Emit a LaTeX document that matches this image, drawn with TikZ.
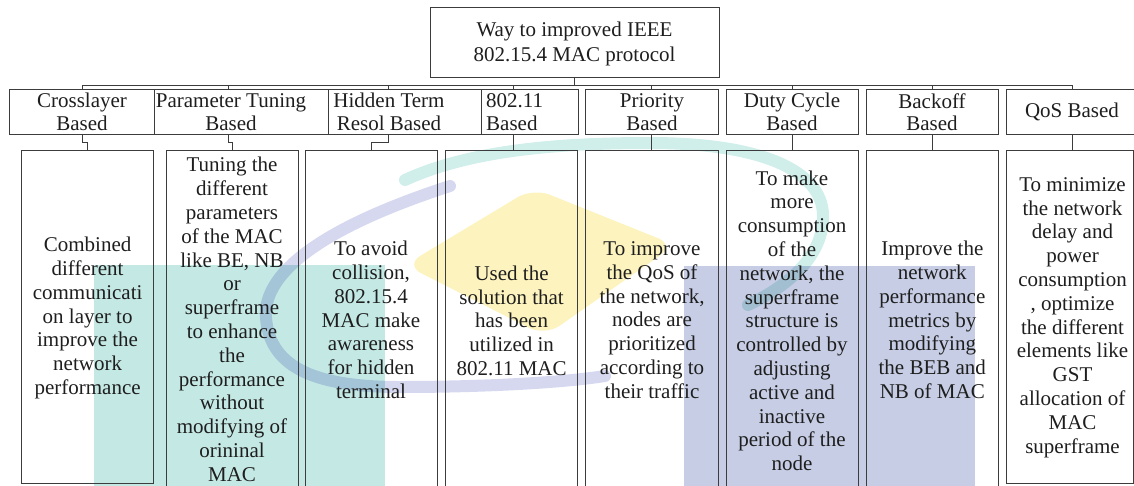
\documentclass[tikz,border=0pt]{standalone}
\usepackage{fontspec}
\setmainfont{Liberation Serif}
\usetikzlibrary{calc}
\definecolor{frame}{RGB}{60,60,60}
\definecolor{ink}{RGB}{30,30,30}
\definecolor{wmteal}{RGB}{196,233,229}
\definecolor{wmblue}{RGB}{198,205,228}
\definecolor{wmyellow}{RGB}{252,243,190}
\definecolor{wmring}{RGB}{214,216,240}
\definecolor{wmarc}{RGB}{208,238,234}
\newcommand\headfont{\fontsize{21}{22.5}\selectfont}
\newcommand\descfont{\fontsize{21}{23.8}\selectfont}
\newcommand\titlefont{\fontsize{21}{25}\selectfont}
\begin{document}
\begin{tikzpicture}[x=1pt,y=-1pt,
  boxshape/.style={draw=frame, line width=0.9pt, inner sep=0pt, outer sep=0pt, anchor=north west},
  wire/.style={draw=frame, line width=0.9pt},
  headtext/.style={align=center, font=\headfont, text=ink, inner sep=0pt},
  desctext/.style={align=center, font=\descfont, text=ink, inner sep=0pt},
  titletext/.style={align=center, font=\titlefont, text=ink, inner sep=0pt},
]
\useasboundingbox (0,0) rectangle (1134,485);
\begin{scope}
\clip (0,0) rectangle (1134,485);

% faint logo behind the chart
\fill[wmteal] (94,265) rectangle (385,490);
\fill[wmblue] (684,266) rectangle (975,490);
\fill[wmyellow, rounded corners=18pt] (405,265) -- (533,188) -- (675,245) -- (545,336) -- cycle;
\draw[wmring, line width=12pt, line cap=round, blend mode=multiply]
  (450,186) .. controls (330,225) and (262,270) .. (266,318)
  .. controls (270,370) and (320,387) .. (400,387)
  .. controls (480,387) and (560,383) .. (605,376);
\draw[wmarc, line width=12pt, line cap=round, blend mode=multiply]
  (405,180) .. controls (470,150) and (560,143) .. (650,143)
  .. controls (760,143) and (822,170) .. (823,215)
  .. controls (824,255) and (790,285) .. (748,305);

% root
\node[boxshape, minimum width=289pt, minimum height=70pt] (top) at (430,7.3) {};
\node[titletext] (title) at (574.5,44) {Way to improved IEEE\\802.15.4 MAC protocol};

% categories
\node[boxshape, minimum width=144.7pt, minimum height=45pt] (r1) at (9.6,89) {};
\node[boxshape, minimum width=173.7pt, minimum height=45pt] (r2) at (154.3,89) {};
\node[boxshape, minimum width=153.8pt, minimum height=45pt] (r3) at (328,89) {};
\node[boxshape, minimum width=96.2pt, minimum height=45pt] (r4) at (481.8,89) {};
\node[boxshape, minimum width=132.9pt, minimum height=45pt] (r5) at (585.6,89) {};
\node[boxshape, minimum width=131.8pt, minimum height=45pt] (r6) at (726.5,89) {};
\node[boxshape, minimum width=131.3pt, minimum height=45pt] (r7) at (866.7,89) {};
\node[boxshape, minimum width=133.4pt, minimum height=45pt] (r8) at (1006.6,89) {};

\node[headtext] (h1) at (82,112) {Crosslayer\\Based};
\node[headtext] (h2) at (231,112) {Parameter Tuning\\Based};
\node[headtext] (h3) at (389,112) {Hidden Term\\Resol Based};
\node[headtext, align=left, anchor=west] (h4) at (486,112) {802.11\\Based};
\node[headtext] (h5) at (652,112) {Priority\\Based};
\node[headtext] (h6) at (792,112) {Duty Cycle\\Based};
\node[headtext] (h7) at (932,112) {Backoff\\Based};
\node[headtext] (h8) at (1072,112) {QoS Based};

% descriptions
\node[boxshape, minimum width=132.2pt, minimum height=333pt] (e1) at (21.5,150) {};
\node[boxshape, minimum width=132pt, minimum height=345pt] (e2) at (166,150) {};
\node[boxshape, minimum width=132pt, minimum height=345pt] (e3) at (305,150) {};
\node[boxshape, minimum width=132.2pt, minimum height=345pt] (e4) at (445.5,150) {};
\node[boxshape, minimum width=132.6pt, minimum height=345pt] (e5) at (585.7,150) {};
\node[boxshape, minimum width=132.3pt, minimum height=345pt] (e6) at (726,150) {};
\node[boxshape, minimum width=131.3pt, minimum height=345pt] (e7) at (866.7,150) {};
\node[boxshape, minimum width=126.6pt, minimum height=333pt] (e8) at (1006.7,150) {};

\node[desctext] (t1) at (87.6,318) {Combined\\different\\communicati\\on layer to\\improve the\\network\\performance};
\node[desctext] (t2) at (232,319.5) {Tuning the\\different\\parameters\\of the MAC\\like BE, NB\\or\\superframe\\to enhance\\the\\performance\\without\\modifying of\\orininal\\MAC};
\node[desctext] (t3) at (371,320) {To avoid\\collision,\\802.15.4\\MAC make\\awareness\\for hidden\\terminal};
\node[desctext] (t4) at (511.6,320.8) {Used the\\solution that\\has been\\utilized in\\802.11 MAC};
\node[desctext] (t5) at (652,320) {To improve\\the QoS of\\the network,\\nodes are\\prioritized\\according to\\their traffic};
\node[desctext] (t6) at (792,320.8) {To make\\more\\consumption\\of the\\network, the\\superframe\\structure is\\controlled by\\adjusting\\active and\\inactive\\period of the\\node};
\node[desctext] (t7) at (932.3,320) {Improve the\\network\\performance\\metrics by\\modifying\\the BEB and\\NB of MAC};
\node[desctext] (t8) at (1072.5,317.5) {To minimize\\the network\\delay and\\power\\consumption\\, optimize\\the different\\elements like\\GST\\allocation of\\MAC\\superframe};

% bus and drops
\coordinate (d1) at (82,85);
\coordinate (d2) at (228.5,85);
\coordinate (d3) at (388.5,85);
\coordinate (d4) at (513,85);
\coordinate (d5) at (651.5,85);
\coordinate (d6) at (792.3,85);
\coordinate (d7) at (932.3,85);
\coordinate (d8) at (1072.4,85);
\draw[wire] (top.south) -- (top.south |- d1);
\draw[wire] (d1) -- (d8);
\foreach \i in {1,...,8} {
  \draw[wire] (d\i) -- (d\i |- r\i.north);
}
\draw[wire] (r1.south -| d1) -- ++(0,8) -| (e1.north);
\draw[wire] (r2.south -| d2) -- ++(0,8) -| (e2.north);
\draw[wire] (r3.south -| d3) -- ++(0,8) -| (e3.north);
\foreach \i in {4,...,8} {
  \draw[wire] (r\i.south -| d\i) -- (e\i.north -| d\i);
}
\end{scope}
\end{tikzpicture}
\end{document}
